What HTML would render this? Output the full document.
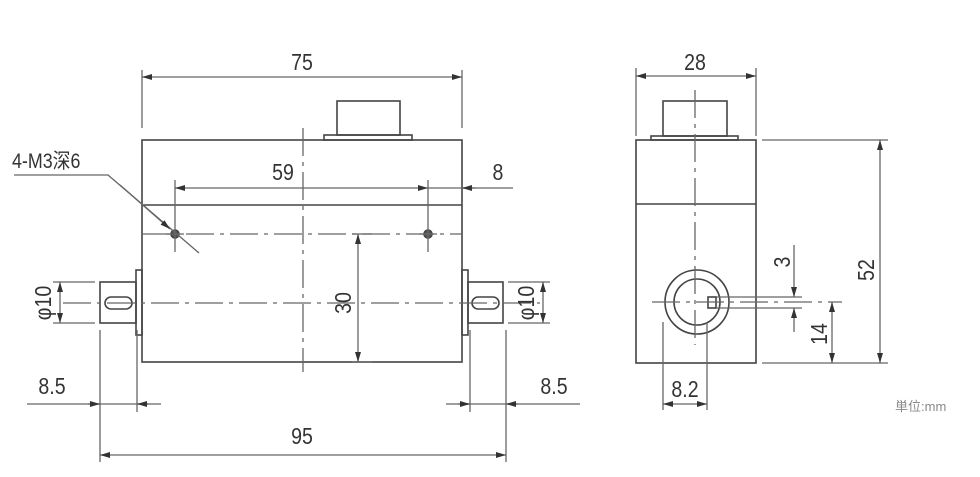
<!DOCTYPE html>
<html><head><meta charset="utf-8"><style>
html,body{margin:0;padding:0;background:#fff;width:980px;height:477px;overflow:hidden}
svg{display:block}
text{font-family:"Liberation Sans","Noto Sans CJK SC",sans-serif;fill:#333;font-size:23px}
</style></head><body>
<svg width="980" height="477" viewBox="0 0 980 477" xmlns="http://www.w3.org/2000/svg">
<defs>
<marker id="a" viewBox="0 0 10 6" refX="10" refY="3" markerWidth="10" markerHeight="6" orient="auto-start-reverse" markerUnits="userSpaceOnUse"><path d="M0,0 L10,3 L0,6z" fill="#333"/></marker>
</defs>
<g stroke="#444" stroke-width="1.6" fill="none">
<rect x="142" y="140" width="320" height="222"/>
<line x1="142" y1="205" x2="462" y2="205"/>
<rect x="337" y="101" width="63" height="34"/>
<rect x="324" y="135" width="88" height="5"/>
<rect x="136" y="270" width="6" height="65"/>
<rect x="100" y="282" width="36" height="41"/>
<rect x="105" y="297" width="27" height="12" rx="6"/>
<rect x="462" y="270" width="6" height="65"/>
<rect x="468" y="282" width="35" height="41"/>
<rect x="472" y="297" width="27" height="12" rx="6"/>
<circle cx="175" cy="234" r="4" fill="#555"/>
<circle cx="428" cy="234" r="4" fill="#555"/>
</g>
<g stroke="#666" stroke-width="1.3" fill="none">
<line x1="142" y1="234" x2="462" y2="234" stroke-dasharray="28,6,4,6"/>
<line x1="63" y1="303" x2="540" y2="303" stroke-dasharray="28,6,4,6"/>
<line x1="303" y1="128" x2="303" y2="372" stroke-dasharray="28,6,4,6"/>
<line x1="175" y1="180" x2="175" y2="252"/>
<line x1="428" y1="180" x2="428" y2="252"/>
<line x1="166" y1="234" x2="184" y2="234"/>
<line x1="419" y1="234" x2="437" y2="234"/>
<line x1="142" y1="70" x2="142" y2="128"/><line x1="462" y1="70" x2="462" y2="128"/>
<line x1="142" y1="77" x2="462" y2="77" marker-start="url(#a)" marker-end="url(#a)"/>
<line x1="175" y1="188" x2="428" y2="188" marker-start="url(#a)" marker-end="url(#a)"/>
<line x1="428" y1="188" x2="513" y2="188"/>
<line x1="462" y1="188" x2="475" y2="188" marker-start="url(#a)"/>
<polyline points="14,175 108,175 199,253"/>
<line x1="120" y1="185" x2="170" y2="229" marker-end="url(#a)"/>
<line x1="352" y1="234" x2="372" y2="234"/><line x1="352" y1="362" x2="372" y2="362"/>
<line x1="358" y1="234" x2="358" y2="362" marker-start="url(#a)" marker-end="url(#a)"/>
<line x1="53" y1="282" x2="95" y2="282"/><line x1="53" y1="323" x2="95" y2="323"/>
<line x1="60" y1="282" x2="60" y2="323" marker-start="url(#a)" marker-end="url(#a)"/>
<line x1="508" y1="282" x2="550" y2="282"/><line x1="508" y1="323" x2="550" y2="323"/>
<line x1="543" y1="282" x2="543" y2="323" marker-start="url(#a)" marker-end="url(#a)"/>
<line x1="100" y1="330" x2="100" y2="462"/><line x1="137" y1="330" x2="137" y2="412"/>
<line x1="27" y1="404" x2="161" y2="404"/>
<line x1="88" y1="404" x2="100" y2="404" marker-end="url(#a)"/>
<line x1="149" y1="404" x2="137" y2="404" marker-end="url(#a)"/>
<line x1="470" y1="330" x2="470" y2="412"/><line x1="506" y1="330" x2="506" y2="462"/>
<line x1="446" y1="404" x2="580" y2="404"/>
<line x1="458" y1="404" x2="470" y2="404" marker-end="url(#a)"/>
<line x1="518" y1="404" x2="506" y2="404" marker-end="url(#a)"/>
<line x1="100" y1="455" x2="506" y2="455" marker-start="url(#a)" marker-end="url(#a)"/>
</g>
<g stroke="#444" stroke-width="1.6" fill="none">
<rect x="636" y="140" width="120" height="223"/>
<line x1="636" y1="204" x2="756" y2="204"/>
<rect x="663" y="101" width="64" height="35"/>
<rect x="651" y="136" width="87" height="4"/>
<circle cx="697" cy="302" r="32"/>
<circle cx="697" cy="302" r="23"/>
<rect x="708" y="297" width="8" height="11"/>
</g>
<g stroke="#666" stroke-width="1.3" fill="none">
<line x1="695" y1="90" x2="695" y2="345" stroke-dasharray="28,6,4,6"/>
<line x1="652" y1="302" x2="842" y2="302" stroke-dasharray="28,6,4,6"/>
<line x1="716" y1="297" x2="802" y2="297"/><line x1="716" y1="308" x2="802" y2="308"/>
<line x1="794" y1="245" x2="794" y2="297" marker-end="url(#a)"/>
<line x1="794" y1="332" x2="794" y2="308" marker-end="url(#a)"/>
<line x1="636" y1="68" x2="636" y2="136"/><line x1="756" y1="68" x2="756" y2="136"/>
<line x1="636" y1="76" x2="756" y2="76" marker-start="url(#a)" marker-end="url(#a)"/>
<line x1="762" y1="140" x2="888" y2="140"/><line x1="762" y1="363" x2="888" y2="363"/>
<line x1="880" y1="140" x2="880" y2="363" marker-start="url(#a)" marker-end="url(#a)"/>
<line x1="832" y1="302" x2="832" y2="363" marker-start="url(#a)" marker-end="url(#a)"/>
<line x1="663" y1="322" x2="663" y2="410"/><line x1="707" y1="322" x2="707" y2="410"/>
<line x1="663" y1="404" x2="707" y2="404" marker-start="url(#a)" marker-end="url(#a)"/>
</g>
<g>
<text transform="translate(302,70) scale(0.85,1)" text-anchor="middle">75</text>
<text transform="translate(283,180) scale(0.85,1)" text-anchor="middle">59</text>
<text transform="translate(498,180) scale(0.85,1)" text-anchor="middle">8</text>
<text transform="translate(12,168) scale(0.85,1)" style="font-size:21px">4-M3深6</text>
<text transform="translate(351,303) rotate(-90) scale(0.85,1)" text-anchor="middle">30</text>
<text transform="translate(51,303) rotate(-90) scale(0.85,1)" text-anchor="middle">φ10</text>
<text transform="translate(534,303) rotate(-90) scale(0.85,1)" text-anchor="middle">φ10</text>
<text transform="translate(52,394) scale(0.85,1)" text-anchor="middle">8.5</text>
<text transform="translate(554,394) scale(0.85,1)" text-anchor="middle">8.5</text>
<text transform="translate(302,444) scale(0.85,1)" text-anchor="middle">95</text>
<text transform="translate(695,70) scale(0.85,1)" text-anchor="middle">28</text>
<text transform="translate(790,262) rotate(-90) scale(0.85,1)" text-anchor="middle">3</text>
<text transform="translate(827,334) rotate(-90) scale(0.85,1)" text-anchor="middle">14</text>
<text transform="translate(874,270) rotate(-90) scale(0.85,1)" text-anchor="middle">52</text>
<text transform="translate(685,397) scale(0.85,1)" text-anchor="middle">8.2</text>
<text x="895" y="411" style="font-size:13px;fill:#888">単位:mm</text>
</g>
</svg>
</body></html>
